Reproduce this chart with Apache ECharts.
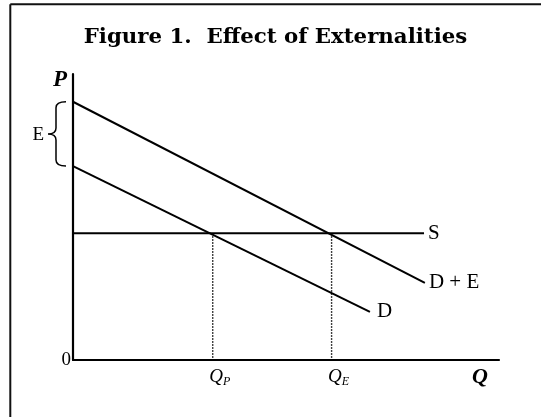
<!DOCTYPE html>
<html>
<head>
<meta charset="utf-8">
<script src="https://cdn.jsdelivr.net/npm/echarts@6/dist/echarts.min.js"></script>
<style>
html,body{margin:0;padding:0;background:#fff;overflow:hidden;}
#chart{width:541px;height:417px;}
</style>
</head>
<body>
<div id="chart"></div>
<script>
// ---- data ----
const titleText = 'Figure 1.  Effect of Externalities';
const demandX = [0, 69.7];
const demandY = [67.8, 16.8];
const demandExtX = [0, 82.6];
const demandExtY = [90.3, 27.0];
const supplyX = [0, 82.4];
const supplyY = [44.3, 44.3];
const quantityTicks = [32.8, 60.7];
const quantitySubs = ['P', 'E'];
const seriesNames = ['D', 'D + E', 'S'];
const braceLabel = 'E';
const axisNames = ['Q', 'P'];
const originLabel = '0';

const pairs = (xs, ys) => xs.map((x, i) => [x, ys[i]]);
const serif = 'Liberation Serif';
const lineStyle = { color: '#000', width: 2 };
const dotStyle = { color: '#000', width: 1.4, type: [1.5, 1.5] };

const chart = echarts.init(document.getElementById('chart'), null, { renderer: 'canvas' });

const endLabel = (text, dist) => ({
  show: true, formatter: text, distance: dist,
  fontFamily: serif, fontSize: 21, color: '#000'
});

const option = {
  animation: false,
  backgroundColor: '#fff',
  graphic: [
    { type: 'line', shape: { x1: 10.3, y1: 4.3, x2: 541, y2: 4.3 },
      style: { stroke: '#111', lineWidth: 2 }, silent: true },
    { type: 'line', shape: { x1: 10.3, y1: 4.3, x2: 10.3, y2: 417 },
      style: { stroke: '#111', lineWidth: 2 }, silent: true },
    { type: 'text', x: 275.5, y: 37, style: { text: titleText, align: 'center', verticalAlign: 'middle',
      font: 'bold 21.3px "DejaVu Serif"', fill: '#000' } }
  ],
  grid: { left: 73, top: 74, right: 42, bottom: 57 },
  xAxis: {
    type: 'value', min: 0, max: 100,
    name: axisNames[0], nameLocation: 'end', nameGap: -27,
    nameTextStyle: { fontFamily: serif, fontStyle: 'italic', fontWeight: 'bold', fontSize: 22, color: '#000',
      align: 'left', verticalAlign: 'top', padding: [6, 0, 0, 0] },
    axisLine: { show: true, lineStyle: { color: '#000', width: 2.2 } },
    axisTick: { show: false },
    splitLine: { show: false },
    axisLabel: {
      customValues: quantityTicks,
      margin: 7,
      padding: [0, 0, 0, 14],
      formatter: v => '{q|Q}{s|' + quantitySubs[quantityTicks.indexOf(v)] + '}',
      rich: {
        q: { fontFamily: serif, fontStyle: 'italic', fontSize: 19, color: '#000' },
        s: { fontFamily: serif, fontStyle: 'italic', fontSize: 12, color: '#000', verticalAlign: 'bottom', padding: [0, 0, -2, 0] }
      }
    }
  },
  yAxis: {
    type: 'value', min: 0, max: 100,
    name: axisNames[1], nameLocation: 'end', nameGap: -6,
    nameTextStyle: { fontFamily: serif, fontStyle: 'italic', fontWeight: 'bold', fontSize: 23, color: '#000',
      align: 'right', verticalAlign: 'middle', padding: [0, 6, 0, 0] },
    axisLine: { show: true, lineStyle: { color: '#000', width: 2.2 } },
    axisTick: { show: false },
    splitLine: { show: false },
    axisLabel: {
      customValues: [0], margin: 2, padding: [5, 0, 0, 0],
      formatter: () => originLabel,
      fontFamily: serif, fontSize: 19, color: '#000'
    }
  },
  series: [
    { name: seriesNames[0], type: 'line', data: pairs(demandX, demandY), showSymbol: false, symbol: 'none',
      lineStyle: lineStyle, endLabel: endLabel(seriesNames[0], 7), silent: true },
    { name: seriesNames[1], type: 'line', data: pairs(demandExtX, demandExtY), showSymbol: false, symbol: 'none',
      lineStyle: lineStyle, endLabel: endLabel(seriesNames[1], 4), silent: true },
    { name: seriesNames[2], type: 'line', data: pairs(supplyX, supplyY), showSymbol: false, symbol: 'none',
      lineStyle: lineStyle, endLabel: endLabel(seriesNames[2], 4), silent: true },
    { type: 'line', data: [[quantityTicks[0], supplyY[0]], [quantityTicks[0], 0]], showSymbol: false, symbol: 'none',
      lineStyle: dotStyle, silent: true, z: 1 },
    { type: 'line', data: [[quantityTicks[1], supplyY[0]], [quantityTicks[1], 0]], showSymbol: false, symbol: 'none',
      lineStyle: dotStyle, silent: true, z: 1 },
    {
      type: 'custom', silent: true, clip: false,
      data: [[0, demandExtY[0], demandY[0]]],
      renderItem: (params, api) => {
        const top = api.coord([api.value(0), api.value(1)]);
        const bot = api.coord([api.value(0), api.value(2)]);
        const x0 = top[0];
        const xr = x0 - 7, xm = x0 - 17, xt = x0 - 25;
        const ty = top[1], by = bot[1], mid = (ty + by) / 2;
        const r = 6;
        const d = `M${xr},${ty} Q${xm},${ty} ${xm},${ty + r} L${xm},${mid - r} Q${xm},${mid} ${xt},${mid} ` +
                  `Q${xm},${mid} ${xm},${mid + r} L${xm},${by - r} Q${xm},${by} ${xr},${by}`;
        return {
          type: 'group',
          children: [
            { type: 'path', shape: { pathData: d }, style: { fill: 'none', stroke: '#000', lineWidth: 1.5 } },
            { type: 'text', style: { text: braceLabel, x: xt - 4, y: mid + 1, align: 'right', verticalAlign: 'middle',
              font: '19px "Liberation Serif"', fill: '#000' } }
          ]
        };
      }
    }
  ]
};
chart.setOption(option);
</script>
</body>
</html>
